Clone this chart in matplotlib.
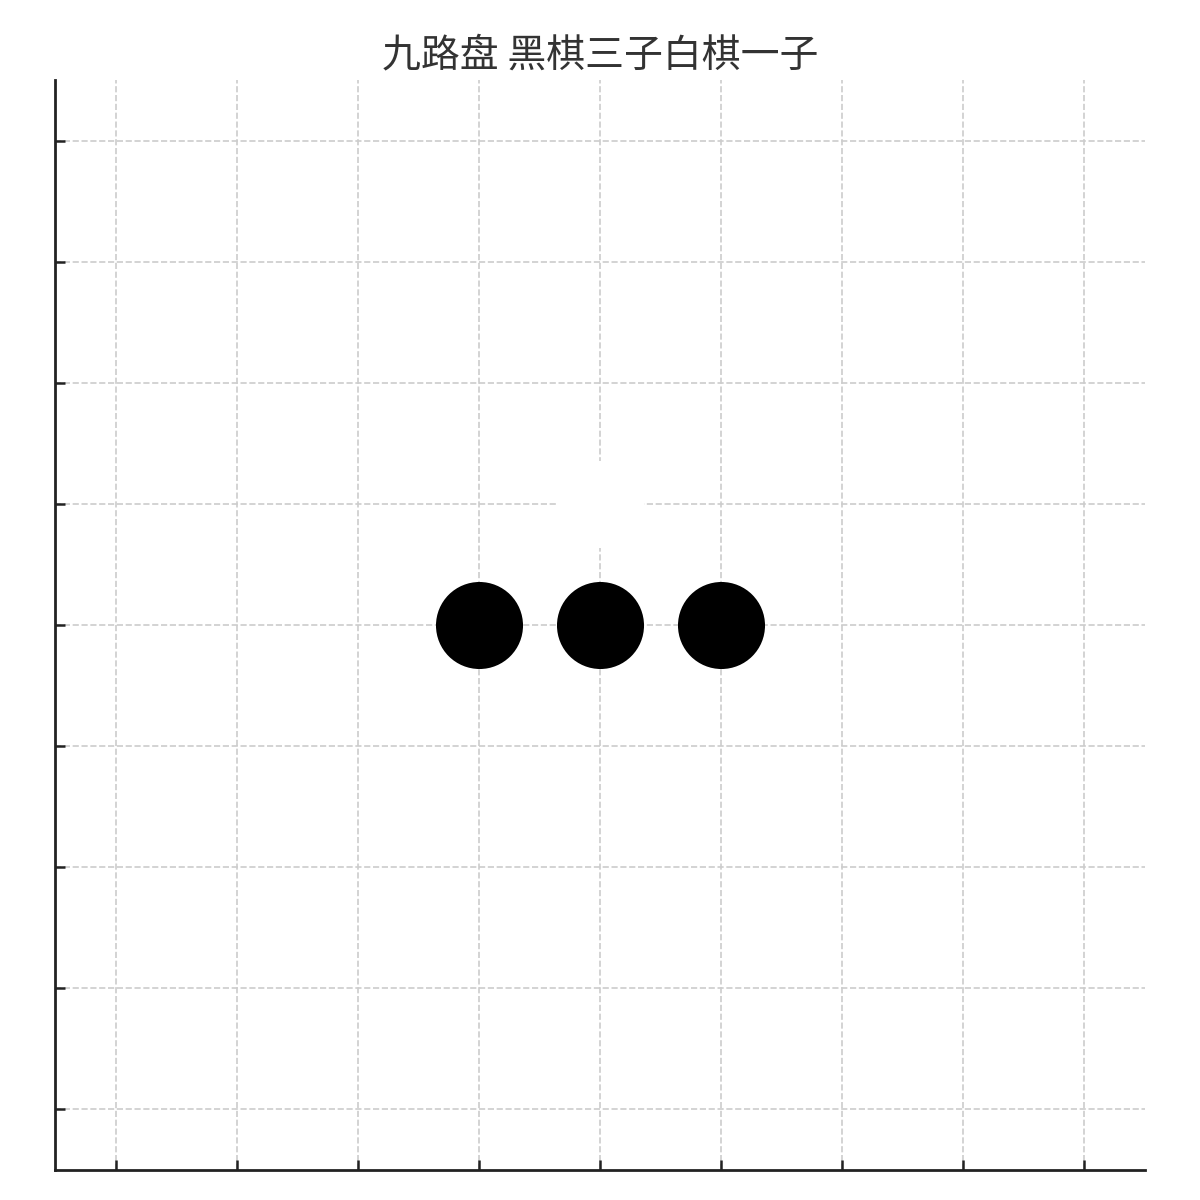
import matplotlib
matplotlib.use("Agg")
import matplotlib.pyplot as plt

plt.rcParams['font.family'] = ['Noto Sans CJK SC', 'DejaVu Sans']

# 棋盘大小与棋子位置
board_ticks = [1, 2, 3, 4, 5, 6, 7, 8, 9]
black_x = [4, 5, 6]
black_y = [5, 5, 5]
white_x = [5]
white_y = [6]
title_text = "九路盘 黑棋三子白棋一子"

fig = plt.figure(figsize=(6, 6), dpi=200)
ax = fig.add_axes([0.0458, 0.025, 0.9083, 0.9083])

ax.set_xlim(0.5, 9.5)
ax.set_ylim(0.5, 9.5)
ax.set_xticks(board_ticks)
ax.set_yticks(board_ticks)
ax.set_xticklabels([])
ax.set_yticklabels([])
ax.tick_params(direction='in', length=3.6, width=0.9, color='#222222')
ax.grid(True, linestyle='--', color='#cccccc', linewidth=0.6)
ax.set_axisbelow(True)

for side in ['top', 'right']:
    ax.spines[side].set_visible(False)
for side in ['left', 'bottom']:
    ax.spines[side].set_color('#222222')
    ax.spines[side].set_linewidth(1.0)

ax.scatter(black_x, black_y, s=920, color='black', zorder=3)
ax.scatter(white_x, white_y, s=920, color='white', zorder=3)

ax.set_title(title_text, fontsize=14, color='#333333', pad=5)

fig.savefig("out.png", dpi=200)
